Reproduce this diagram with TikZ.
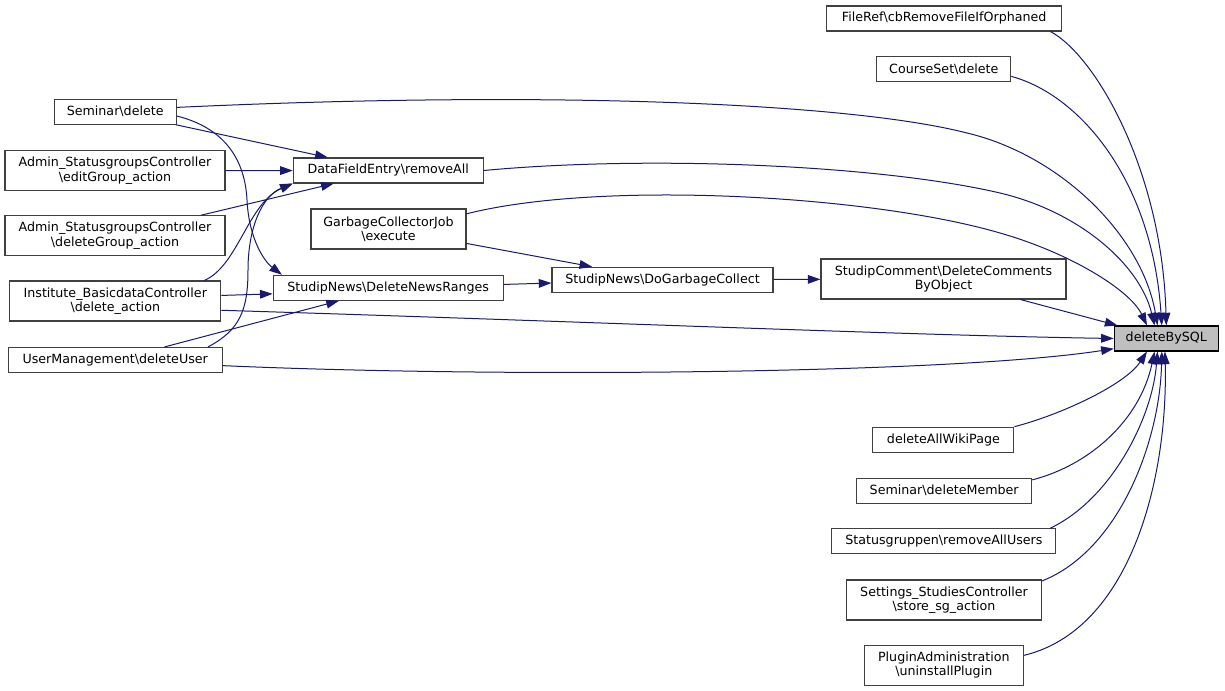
\documentclass[tikz,border=0pt]{standalone}
\usepackage{fontspec}
\setmainfont{DejaVu Sans}
\usetikzlibrary{arrows.meta}
\newcommand{\bsl}{\textbackslash}
\definecolor{callblue}{HTML}{191970}
\definecolor{boxgray}{HTML}{404040}
\definecolor{rootgray}{HTML}{BFBFBF}
\tikzset{
  fn/.style={draw=boxgray,line width=0.8pt,fill=white,inner sep=0pt,minimum height=18.75pt,align=center,font=\fontsize{9.5}{10.8}\selectfont},
  fn2/.style={fn,minimum height=30pt},
  bw/.style={minimum width=#1*0.75pt},
  call/.style={->,draw=callblue,line width=0.75pt}
}
\begin{document}
\begin{tikzpicture}[x=0.75pt,y=-0.75pt,>={Triangle[length=9.5pt,width=6.5pt]}]
    \useasboundingbox (0,0) rectangle (1225,691);
    \node[fn,bw=104,fill=rootgray,draw=black] (bysql) at (1166.3,338.5) {deleteBySQL};
    \node[fn,bw=235] (fileref) at (944.2,18.5) {FileRef\bsl cbRemoveFileIfOrphaned};
    \node[fn,bw=134] (courseset) at (943.8,69.3) {CourseSet\bsl delete};
    \node[fn,bw=122] (semdel) at (115.2,111.7) {Seminar\bsl delete};
    \node[fn2,bw=220] (editgrp) at (115,170.7) {Admin\_StatusgroupsController\\\bsl editGroup\_action};
    \node[fn,bw=190] (dfe) at (388.3,170.5) {DataFieldEntry\bsl removeAll};
    \node[fn2,bw=155] (gcjob) at (388.5,229) {GarbageCollectorJob\\\bsl execute};
    \node[fn2,bw=220] (delgrp) at (115,235.8) {Admin\_StatusgroupsController\\\bsl deleteGroup\_action};
    \node[fn2,bw=245] (comment) at (943.5,279) {StudipComment\bsl DeleteComments\\ByObject};
    \node[fn2,bw=211] (institute) at (115.3,301) {Institute\_BasicdataController\\\bsl delete\_action};
    \node[fn,bw=230] (dnr) at (388.2,287.8) {StudipNews\bsl DeleteNewsRanges};
    \node[fn,bw=221] (dogc) at (662.5,279.8) {StudipNews\bsl DoGarbageCollect};
    \node[fn,bw=214] (usermgmt) at (115.2,360) {UserManagement\bsl deleteUser};
    \node[fn,bw=141] (wiki) at (943.4,439.7) {deleteAllWikiPage};
    \node[fn,bw=175] (member) at (944.2,490.7) {Seminar\bsl deleteMember};
    \node[fn,bw=224] (statusgr) at (943.9,541.3) {Statusgruppen\bsl removeAllUsers};
    \node[fn2,bw=195] (settings) at (944,600) {Settings\_StudiesController\\\bsl store\_sg\_action};
    \node[fn2,bw=159] (plugin) at (943.8,665.2) {PluginAdministration\\\bsl uninstallPlugin};
    \draw[call] (fileref.-7) .. controls (1095,55) and (1162,170) .. (bysql.90);
    \draw[call] (courseset.-6) .. controls (1080,95) and (1152,180) .. (bysql.109);
    \draw[call] (semdel.4) .. controls (550,90) and (850,103) .. (967,133) .. controls (1060,155) and (1142,235) .. (bysql.124);
    \draw[call] (dfe.east) .. controls (650,155) and (880,165) .. (1000,193) .. controls (1080,212) and (1140,265) .. (bysql.132);
    \draw[call] (gcjob.11) .. controls (600,180) and (870,195) .. (1000,233) .. controls (1070,253) and (1130,290) .. (bysql.146);
    \draw[call] (comment) -- (bysql);
    \draw[call] (institute.-5) .. controls (600,322) and (900,335) .. (bysql.west);
    \draw[call] (usermgmt.-3) .. controls (500,378) and (950,374) .. (bysql.191);
    \draw[call] (wiki.north east) .. controls (1060,415) and (1125,385) .. (bysql.214);
    \draw[call] (member.7) .. controls (1090,465) and (1140,420) .. (bysql.228);
    \draw[call] (statusgr.7) .. controls (1110,500) and (1152,420) .. (bysql.236);
    \draw[call] (settings.11) .. controls (1120,550) and (1160,440) .. (bysql.251);
    \draw[call] (plugin.7) .. controls (1130,630) and (1168,480) .. (bysql.264);
    \draw[call] (semdel) -- (dfe);
    \draw[call] (editgrp) -- (dfe);
    \draw[call] (delgrp) -- (dfe);
    \draw[call] (institute.13) .. controls (238,266) and (248,203) .. (dfe.south west);
    \draw[call] (usermgmt.8) .. controls (240,330) and (248,310) .. (248,270) .. controls (248,228) and (262,196) .. (dfe.south west);
    \draw[call] (semdel.-4) .. controls (225,128) and (245,160) .. (247,200) .. controls (249,240) and (265,262) .. (dnr.173);
    \draw[call] (institute.3) -- (dnr.183);
    \draw[call] (usermgmt) -- (dnr);
    \draw[call] (dnr) -- (dogc);
    \draw[call] (gcjob) -- (dogc);
    \draw[call] (dogc) -- (comment);
\end{tikzpicture}
\end{document}
